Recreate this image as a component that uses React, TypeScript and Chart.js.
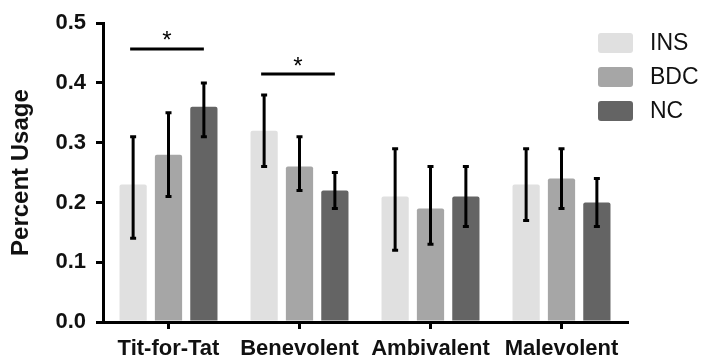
import React, { useEffect, useRef } from "react";
import { Chart, registerables } from "chart.js";

Chart.register(...registerables);

const categories = ["Tit-for-Tat", "Benevolent", "Ambivalent", "Malevolent"];
const seriesNames = ["INS", "BDC", "NC"];
const insValues = [0.23, 0.32, 0.21, 0.23];
const bdcValues = [0.28, 0.26, 0.19, 0.24];
const ncValues = [0.36, 0.22, 0.21, 0.2];
const insLow = [0.14, 0.26, 0.12, 0.17];
const insHigh = [0.31, 0.38, 0.29, 0.29];
const bdcLow = [0.21, 0.22, 0.13, 0.19];
const bdcHigh = [0.35, 0.31, 0.26, 0.29];
const ncLow = [0.31, 0.19, 0.16, 0.16];
const ncHigh = [0.4, 0.25, 0.26, 0.24];
const yTicks = [0, 0.1, 0.2, 0.3, 0.4, 0.5];
// significance: category index, line value, star value
const sigCategory = [0, 1];
const sigLine = [0.457, 0.415];
const sigStar = [0.478, 0.435];

const colors = ["#e0e0e0", "#a6a6a6", "#646464"];
const FONT = "Arial, 'Liberation Sans', Helvetica, sans-serif";

const lows = [insLow, bdcLow, ncLow];
const highs = [insHigh, bdcHigh, ncHigh];

const overlayPlugin = {
  id: "overlay",
  afterDatasetsDraw(chart: any) {
    const ctx = chart.ctx;
    const y = chart.scales.y;
    ctx.save();
    // error bars
    ctx.strokeStyle = "#000";
    ctx.lineWidth = 3;
    ctx.lineCap = "butt";
    for (let d = 0; d < 3; d++) {
      const meta = chart.getDatasetMeta(d);
      meta.data.forEach((bar: any, i: number) => {
        const x = bar.x;
        const yl = y.getPixelForValue(lows[d][i]);
        const yh = y.getPixelForValue(highs[d][i]);
        ctx.beginPath();
        ctx.moveTo(x, yl);
        ctx.lineTo(x, yh);
        ctx.stroke();
        ctx.beginPath();
        ctx.moveTo(x - 3, yl);
        ctx.lineTo(x + 3, yl);
        ctx.moveTo(x - 3, yh);
        ctx.lineTo(x + 3, yh);
        ctx.stroke();
      });
    }
    // significance lines
    sigCategory.forEach((c, k) => {
      const x0 = chart.getDatasetMeta(0).data[c].x - 3;
      const x1 = chart.getDatasetMeta(2).data[c].x;
      const ly = y.getPixelForValue(sigLine[k]);
      ctx.beginPath();
      ctx.moveTo(x0, ly);
      ctx.lineTo(x1, ly);
      ctx.stroke();
      ctx.fillStyle = "#000";
      ctx.font = `24px ${FONT}`;
      ctx.textAlign = "center";
      ctx.textBaseline = "middle";
      ctx.fillText("*", (x0 + x1) / 2, y.getPixelForValue(sigStar[k]) + 5);
    });
    // legend
    const lx = 598;
    seriesNames.forEach((name, k) => {
      const ty = 33 + k * 34;
      ctx.fillStyle = colors[k];
      ctx.beginPath();
      (ctx as any).roundRect(lx, ty, 35, 20, 3);
      ctx.fill();
      ctx.fillStyle = "#111";
      ctx.font = `23px ${FONT}`;
      ctx.textAlign = "left";
      ctx.textBaseline = "middle";
      ctx.fillText(name, 650, ty + 11);
    });
    ctx.restore();
  },
};

export default function App() {
  const ref = useRef<HTMLCanvasElement>(null);
  useEffect(() => {
    if (!ref.current) return;
    const chart = new Chart(ref.current, {
      type: "bar",
      data: {
        labels: categories,
        datasets: [
          { label: seriesNames[0], data: insValues, backgroundColor: colors[0] },
          { label: seriesNames[1], data: bdcValues, backgroundColor: colors[1] },
          { label: seriesNames[2], data: ncValues, backgroundColor: colors[2] },
        ].map((d) => ({
          ...d,
          borderRadius: 2,
          borderSkipped: "bottom",
          categoryPercentage: 0.81,
          barPercentage: 0.77,
        })),
      },
      options: {
        responsive: false,
        animation: false,
        layout: { padding: { left: 0, top: 22, right: 75, bottom: 0 } },
        plugins: { legend: { display: false }, tooltip: { enabled: false } },
        scales: {
          x: {
            grid: {
              display: true,
              drawOnChartArea: false,
              drawTicks: true,
              tickLength: 7,
              color: "#000",
              lineWidth: 3,
              offset: false,
            },
            border: { display: true, color: "#000", width: 3 },
            ticks: {
              color: "#111",
              padding: 7,
              font: { family: FONT, size: 22, weight: "bold" },
              maxRotation: 0,
              autoSkip: false,
            },
            afterFit: (s: any) => {
              s.height = 41;
            },
          },
          y: {
            min: 0,
            max: 0.5,
            afterBuildTicks: (s: any) => {
              s.ticks = yTicks.map((v) => ({ value: v }));
            },
            grid: {
              display: true,
              drawOnChartArea: false,
              drawTicks: true,
              tickLength: 7,
              color: "#000",
              lineWidth: 3,
            },
            border: { display: true, color: "#000", width: 3 },
            ticks: {
              color: "#111",
              padding: 10,
              font: { family: FONT, size: 22, weight: "bold" },
              callback: (v: any) => Number(v).toFixed(1),
            },
            title: {
              display: true,
              text: "Percent Usage",
              color: "#111",
              font: { family: FONT, size: 24, weight: "bold" },
              padding: { top: 7, bottom: 0 },
            },
            afterFit: (s: any) => {
              s.width = 103;
            },
          },
        },
      },
      plugins: [overlayPlugin],
    });
    return () => chart.destroy();
  }, []);
  return (
    <div style={{ position: "fixed", left: 0, top: 0, width: 702, height: 363, background: "#fff" }}>
      <canvas ref={ref} width={702} height={363} />
    </div>
  );
}
